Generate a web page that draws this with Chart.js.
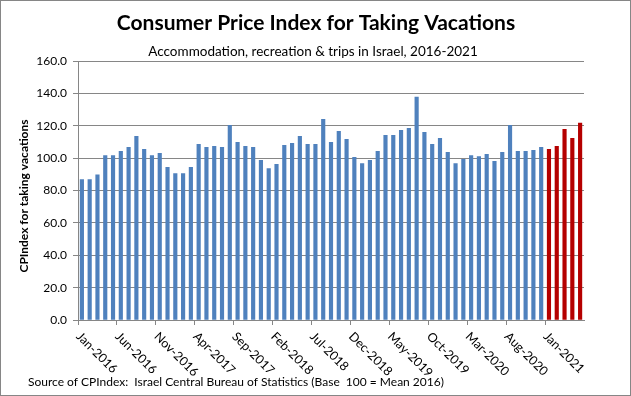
<!DOCTYPE html>
<html>
<head>
<meta charset="utf-8">
<script src="https://cdn.jsdelivr.net/npm/chart.js@4"></script>
<style>
  body { margin: 0; background: #fff; }
  #wrap { width: 631px; height: 396px; }
</style>
</head>
<body>
<div id="wrap"><canvas id="cpiChart" width="631" height="396"></canvas></div>
<script>
var months = ['Jan', 'Feb', 'Mar', 'Apr', 'May', 'Jun', 'Jul', 'Aug', 'Sep', 'Oct', 'Nov', 'Dec'];
var years = [2016, 2017, 2018, 2019, 2020, 2021];

// Jan-2016 .. May-2021
var labels = [];
years.forEach(function (y) {
    months.forEach(function (m, i) {
        if (y < 2021 || i < 5) labels.push(m + '-' + y);
    });
});

var cpiValues = [
    86.8, 86.8, 89.7, 101.5, 101.5, 104.2, 106.7, 113.5, 105.4, 101.5, 102.9, 94.3,
    90.5, 90.5, 94.3, 108.5, 106.7, 107.3, 106.7, 120.3, 109.8, 107.3, 106.7, 98.6,
    93.6, 96.1, 107.9, 109.1, 113.5, 108.5, 108.5, 124.0, 109.8, 116.6, 111.6, 100.5,
    96.7, 98.6, 104.2, 114.1, 114.1, 117.2, 118.4, 137.7, 116.0, 108.5, 112.2, 103.6,
    96.7, 99.2, 101.5, 100.9, 102.3, 98.0, 103.6, 120.3, 104.2, 104.2, 104.8, 106.7,
    105.4, 107.3, 117.8, 112.2, 121.6
];

var firstRed = labels.indexOf('Jan-2021');
var labelEvery = 5;
var yTicks = [0, 20, 40, 60, 80, 100, 120, 140, 160];

var FONT = "Lato, 'Open Sans', sans-serif";
var GRID = '#868686';

var barColors = cpiValues.map(function (v, i) {
    return i >= firstRed ? '#B50000' : '#4F81BD';
});

var textPlugin = {
    id: 'texts',
    afterDraw: function (chart) {
        var ctx = chart.ctx;
        var xs = chart.scales.x;
        ctx.save();
        ctx.fillStyle = '#000';

        ctx.font = 'bold 21px ' + FONT;
        ctx.textAlign = 'center';
        ctx.textBaseline = 'middle';
        ctx.fillText('Consumer Price Index for Taking Vacations', 316, 23);

        ctx.font = '13.5px ' + FONT;
        ctx.fillText('Accommodation, recreation & trips in Israel, 2016-2021', 313, 52);

        ctx.font = '12px ' + FONT;
        ctx.textAlign = 'left';
        ctx.fillText('Source of CPIndex:  Israel Central Bureau of Statistics (Base  100 = Mean 2016)', 28, 382);

        ctx.save();
        ctx.translate(24, 196);
        ctx.rotate(-Math.PI / 2);
        ctx.font = 'bold 12px ' + FONT;
        ctx.textAlign = 'center';
        ctx.fillText('CPIndex for taking vacations', 0, 0);
        ctx.restore();

        // rotated category labels
        ctx.font = '12.5px ' + FONT;
        ctx.textAlign = 'left';
        ctx.textBaseline = 'top';
        labels.forEach(function (lab, i) {
            if (i % labelEvery !== 0) return;
            var x = xs.getPixelForValue(i);
            ctx.save();
            ctx.translate(x + 1, 330);
            ctx.rotate(Math.PI / 4);
            ctx.fillText(lab, 0, 0);
            ctx.restore();
        });

        ctx.strokeStyle = GRID;
        ctx.lineWidth = 1;
        ctx.strokeRect(0.5, 0.5, chart.width - 1, chart.height - 1);
        ctx.restore();
    }
};

var ctx = document.getElementById('cpiChart').getContext('2d');
var cpiChart = new Chart(ctx, {
    type: 'bar',
    data: {
        labels: labels,
        datasets: [{
            label: 'CPIndex',
            data: cpiValues,
            backgroundColor: barColors,
            barThickness: 3.5
        }]
    },
    options: {
        responsive: false,
        animation: false,
        layout: { padding: { top: 61, right: 47, left: 0, bottom: 0 } },
        plugins: {
            legend: { display: false },
            tooltip: { enabled: false }
        },
        scales: {
            x: {
                offset: true,
                afterFit: function (scale) { scale.height = 76; },
                grid: {
                    offset: true,
                    drawOnChartArea: false,
                    tickLength: 5,
                    color: function (c) { return c.index % labelEvery === 0 ? GRID : 'rgba(0,0,0,0)'; }
                },
                border: { color: GRID },
                ticks: { display: false, autoSkip: false }
            },
            y: {
                min: 0,
                max: 160,
                afterFit: function (scale) { scale.width = 78; },
                afterBuildTicks: function (scale) {
                    scale.ticks = yTicks.map(function (v) { return { value: v }; });
                },
                grid: { color: GRID, tickLength: 5 },
                border: { color: GRID },
                ticks: {
                    padding: 6,
                    color: '#000',
                    font: { family: FONT, size: 12 },
                    callback: function (v) { return v.toFixed(1); }
                }
            }
        }
    },
    plugins: [textPlugin]
});
</script>
</body>
</html>
